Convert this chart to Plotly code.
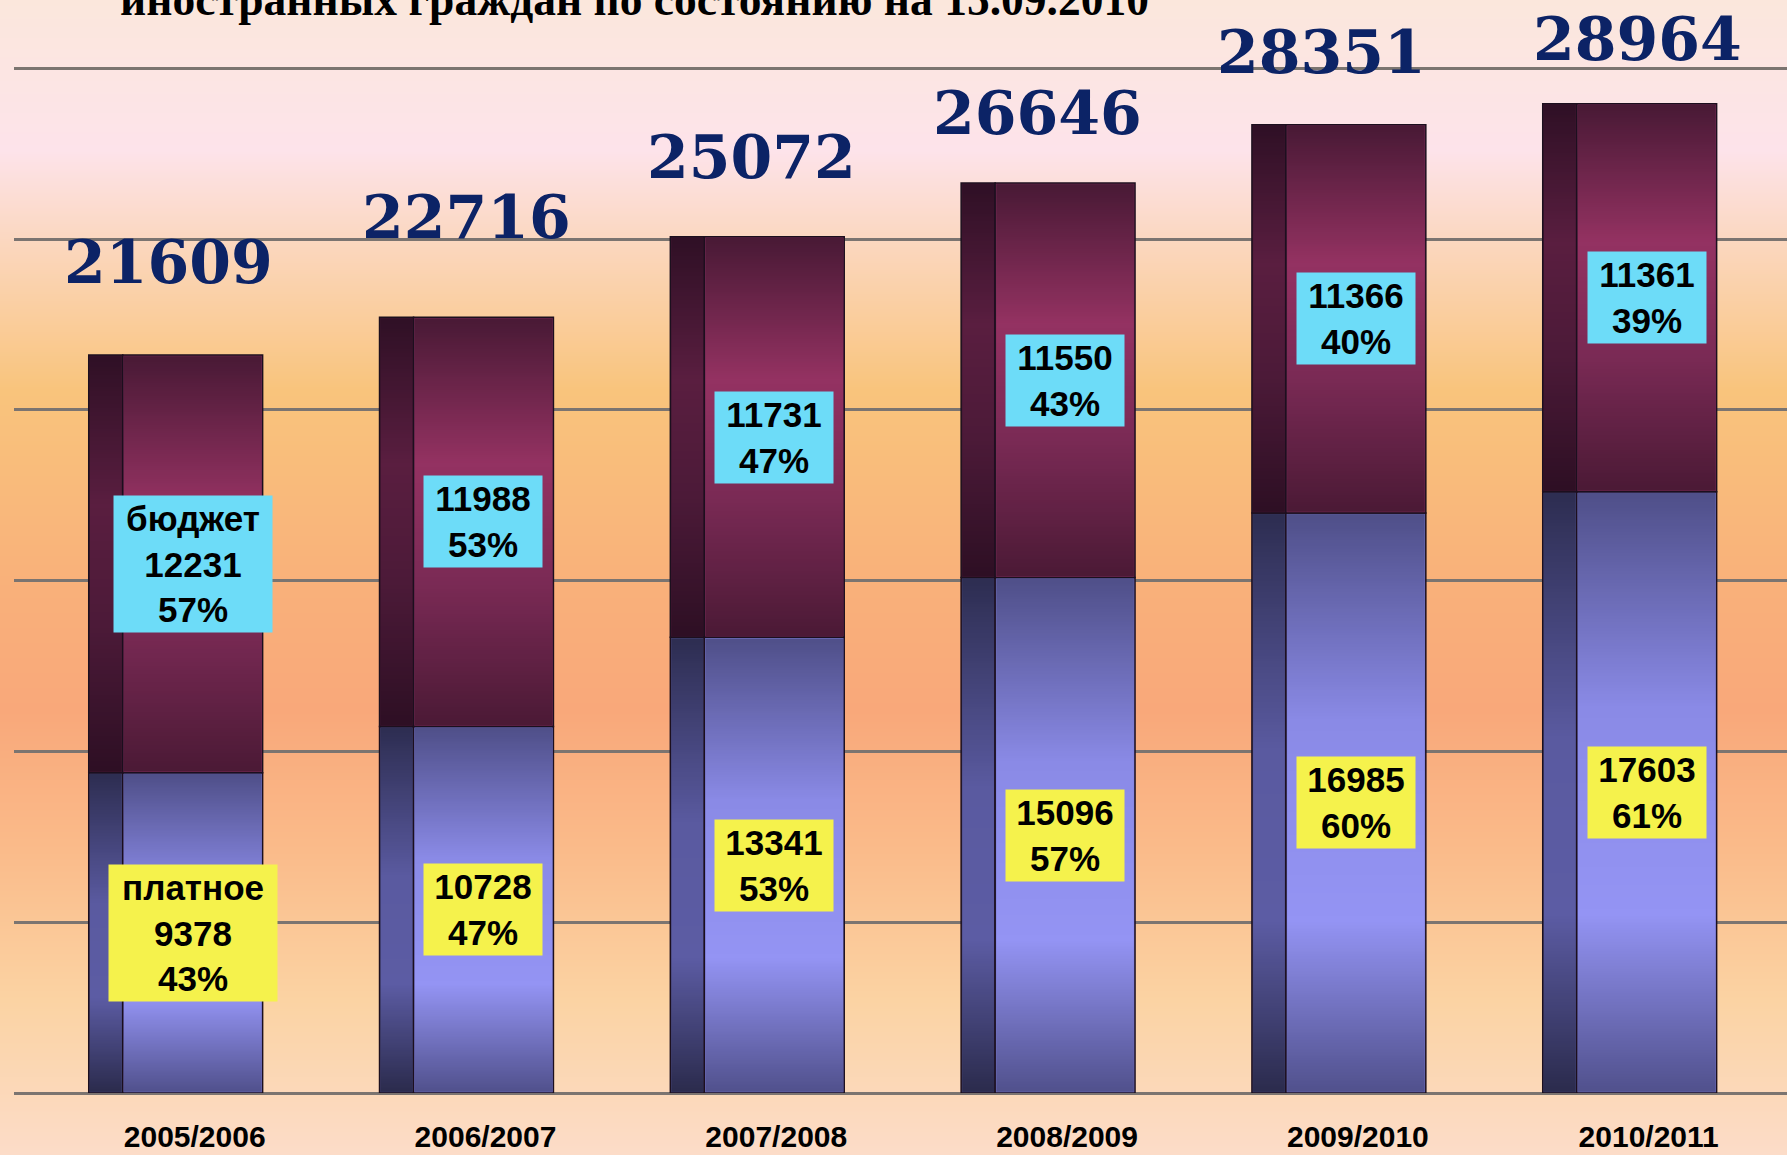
import base64
import struct
import zlib

import plotly.graph_objects as go

# data
years = ['2005/2006', '2006/2007', '2007/2008', '2008/2009', '2009/2010', '2010/2011']
paid = [9378, 10728, 13341, 15096, 16985, 17603]          # платное
budget = [12231, 11988, 11731, 11550, 11366, 11361]       # бюджет
paid_pct = [43, 47, 53, 57, 60, 61]
budget_pct = [57, 53, 47, 43, 40, 39]
totals = [21609, 22716, 25072, 26646, 28351, 28964]

TITLE = 'иностранных граждан по состоянию на 15.09.2010'

# layout constants (px)
W, H = 1787, 1155
ML, MR, MT, MB = 14, 0, 65, 62
PH = H - MT - MB
Y_TOP = 30100

# bar geometry in category units
SIDE_OFF, SIDE_W = -0.299, 0.117
FACE_OFF, FACE_W = -0.182, 0.481
FACE_C = FACE_OFF + FACE_W / 2
INSET_X, INSET_Y = 0.004, 35   # keep the outlines visible around the shading

# colours
BLUE_FACE = '#7676cc'
BLUE_SIDE = '#434375'
PURP_FACE = '#7c2c59'
PURP_SIDE = '#401630'
EDGE = '#1c0f1e'
CYAN = '#6ddcf8'
YELLOW = '#f5f24c'
NAVY = '#0c2366'
GRID = '#7b7470'

# small nudges for the big total labels (px)
TOT_LIFT = [93, 100, 80, 70, 73, 65]
TOT_DX = [-7, 0, -6, -11, -17, 8]


def gradient_png(stops, height):
    def col(y):
        for (y0, c0), (y1, c1) in zip(stops, stops[1:]):
            if y0 <= y <= y1:
                t = (y - y0) / (y1 - y0) if y1 > y0 else 0
                a = [int(c0[i:i + 2], 16) for i in (1, 3, 5)]
                b = [int(c1[i:i + 2], 16) for i in (1, 3, 5)]
                return bytes(round(a[k] + (b[k] - a[k]) * t) for k in range(3))
        return bytes([255, 255, 255])
    raw = b''.join(b'\x00' + col(y) for y in range(height))

    def chunk(tag, data):
        c = tag + data
        return struct.pack('>I', len(data)) + c + struct.pack('>I', zlib.crc32(c) & 0xffffffff)
    png = b'\x89PNG\r\n\x1a\n'
    png += chunk(b'IHDR', struct.pack('>IIBBBBB', 1, height, 8, 2, 0, 0, 0))
    png += chunk(b'IDAT', zlib.compress(raw, 9))
    png += chunk(b'IEND', b'')
    return 'data:image/png;base64,' + base64.b64encode(png).decode()


bg = gradient_png([(0, '#fbe7dc'), (150, '#fde3ea'), (235, '#fbd8c2'), (390, '#f9c47c'),
                   (590, '#f9b07a'), (710, '#f9a87a'), (850, '#fabb8a'), (1000, '#fbd3a3'),
                   (1154, '#fcdcc8')], H)
# vertical shading of the bar segments (top -> bottom)
shade_purp = gradient_png([(0, '#4a1a36'), (35, '#943262'), (65, '#7a2a55'), (99, '#4c1a36')], 100)
shade_purp_side = gradient_png([(0, '#301026'), (35, '#5a1e40'), (65, '#4c1a38'), (99, '#2e0f24')], 100)
shade_blue = gradient_png([(0, '#50508a'), (35, '#8a8ae6'), (70, '#9494f4'), (99, '#52528e')], 100)
shade_blue_side = gradient_png([(0, '#2e2e52'), (40, '#5a5aa0'), (70, '#5c5ca4'), (99, '#2c2c4e')], 100)

fig = go.Figure()

# платное (bottom segment)
fig.add_trace(go.Bar(x=years, y=paid, width=SIDE_W, offset=SIDE_OFF,
                     marker=dict(color=BLUE_SIDE, line=dict(color=EDGE, width=1.5)),
                     hoverinfo='skip'))
fig.add_trace(go.Bar(x=years, y=paid, width=FACE_W, offset=FACE_OFF, name='платное',
                     marker=dict(color=BLUE_FACE, line=dict(color=EDGE, width=1.5))))
# бюджет (top segment)
fig.add_trace(go.Bar(x=years, y=budget, base=paid, width=SIDE_W, offset=SIDE_OFF,
                     marker=dict(color=PURP_SIDE, line=dict(color=EDGE, width=1.5)),
                     hoverinfo='skip'))
fig.add_trace(go.Bar(x=years, y=budget, base=paid, width=FACE_W, offset=FACE_OFF, name='бюджет',
                     marker=dict(color=PURP_FACE, line=dict(color=EDGE, width=1.5))))

images = [dict(source=bg, xref='paper', yref='paper',
               x=-ML / (W - ML - MR), y=1 + MT / PH,
               sizex=W / (W - ML - MR), sizey=H / PH,
               xanchor='left', yanchor='top', sizing='stretch', layer='below')]


def shade(src, i, off, wid, top, height):
    return dict(source=src, xref='x', yref='y', x=i + off + INSET_X, y=top - INSET_Y,
                sizex=wid - 2 * INSET_X, sizey=height - 2 * INSET_Y,
                xanchor='left', yanchor='top', sizing='stretch', layer='above')


lab_font = dict(family='Liberation Sans, Arial', size=35, color='black')
annotations = []
for i in range(len(years)):
    images += [shade(shade_blue_side, i, SIDE_OFF, SIDE_W, paid[i], paid[i]),
               shade(shade_blue, i, FACE_OFF, FACE_W, paid[i], paid[i]),
               shade(shade_purp_side, i, SIDE_OFF, SIDE_W, totals[i], budget[i]),
               shade(shade_purp, i, FACE_OFF, FACE_W, totals[i], budget[i])]
    if i == 0:
        t_b = f'<b>бюджет<br>{budget[i]}<br>{budget_pct[i]}%</b>'
        t_p = f'<b>платное<br>{paid[i]}<br>{paid_pct[i]}%</b>'
        w_b, w_p = 152, 162
    else:
        t_b = f'<b>{budget[i]}<br>{budget_pct[i]}%</b>'
        t_p = f'<b>{paid[i]}<br>{paid_pct[i]}%</b>'
        w_b = w_p = 112
    annotations.append(dict(x=i + FACE_C, y=paid[i] + budget[i] / 2, xref='x', yref='y',
                            text=t_b, showarrow=False, bgcolor=CYAN, borderpad=3,
                            width=w_b, font=lab_font))
    annotations.append(dict(x=i + FACE_C, y=paid[i] / 2, xref='x', yref='y',
                            text=t_p, showarrow=False, bgcolor=YELLOW, borderpad=3,
                            width=w_p, font=lab_font))
    annotations.append(dict(x=i, y=totals[i], xref='x', yref='y', text=f'<b>{totals[i]}</b>',
                            showarrow=False, yanchor='middle', yshift=TOT_LIFT[i],
                            xshift=TOT_DX[i],
                            font=dict(family='DejaVu Serif', size=60, color=NAVY)))

# cut-off heading at the very top
annotations.append(dict(x=(118 - ML) / (W - ML - MR), y=1 + (MT + 1) / PH, xref='paper', yref='paper',
                        xanchor='left', yanchor='middle', showarrow=False,
                        text=f'<b>{TITLE}</b>',
                        font=dict(family='Liberation Serif, Times New Roman', size=45.5, color='black')))

fig.update_layout(
    width=W, height=H,
    margin=dict(l=ML, r=MR, t=MT, b=MB, autoexpand=False),
    barmode='overlay',
    showlegend=False,
    paper_bgcolor='rgba(0,0,0,0)',
    plot_bgcolor='rgba(0,0,0,0)',
    annotations=annotations,
    images=images,
)

fig.update_xaxes(range=[-0.556, 5.541], showgrid=False, zeroline=False, showline=False,
                 automargin=False,
                 ticks='', ticklabelshift=19, ticklabelstandoff=23,
                 tickfont=dict(family='Liberation Sans, Arial', size=30, color='black'),
                 tickprefix='<b>', ticksuffix='</b>')
fig.update_yaxes(range=[0, Y_TOP], dtick=5000, showticklabels=False, automargin=False,
                 showgrid=True, gridcolor=GRID, gridwidth=2.5,
                 zeroline=True, zerolinecolor=GRID, zerolinewidth=2.5)

# page body has an 8px default margin; drop it so the figure fills the window
fig.write_html('out.html', config={'displayModeBar': False},
               post_script="document.body.style.margin='0';")
